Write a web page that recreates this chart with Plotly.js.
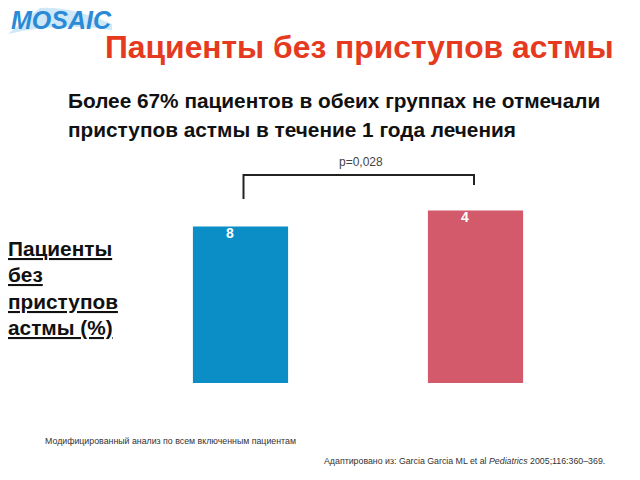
<!DOCTYPE html>
<html>
<head>
<meta charset="utf-8">
<script src="https://cdn.plot.ly/plotly-3.0.1.min.js"></script>
<style>html,body{margin:0;padding:0;background:#fff;}#chart{width:640px;height:480px;}</style>
</head>
<body>
<div id="chart"></div>
<script>
// Data
const categories = ['Группа 1', 'Группа 2'];
const values = [68, 75];
const barLabels = ['8', '4'];
const barColors = ['#0b8ec6', '#d35a6a'];
const pValue = 'p=0,028';
const titleText = 'Пациенты без приступов астмы';
const subtitleLines = ['Более 67% пациентов в обеих группах не отмечали', 'приступов астмы в течение 1 года лечения'];
const yLabelLines = ['Пациенты', 'без', 'приступов', 'астмы (%)'];
const footnote1 = 'Модифицированный анализ по всем включенным пациентам';
const footnote2 = 'Адаптировано из: Garcia Garcia ML et al <i>Pediatrics</i> 2005;116:360–369.';

// Plot geometry helpers (pixel -> paper)
const M = {l: 123, r: 47, t: 153, b: 97};
const PW = 640 - M.l - M.r, PH = 480 - M.t - M.b;
const px = x => (x - M.l) / PW;
const py = y => (480 - M.b - y) / PH;

const trace = {
  type: 'bar',
  x: categories,
  y: values,
  marker: {color: barColors},
  hoverinfo: 'skip',
  width: 0.405
};

const annotations = [];
// logo
annotations.push({xref:'paper', yref:'paper', x: px(9), y: py(20), xanchor:'left', yanchor:'middle',
  text:'<b><i>MOSAIC</i></b>', showarrow:false, font:{family:'Liberation Sans, Arial', size:25, color:'#2a8ad6'}});
// title
annotations.push({xref:'paper', yref:'paper', x: px(103), y: py(47), xanchor:'left', yanchor:'middle',
  text:'<b>' + titleText + '</b>', showarrow:false, font:{family:'Liberation Sans, Arial', size:31.8, color:'#e53a20'}});
// subtitle
subtitleLines.forEach((t, i) => annotations.push({xref:'paper', yref:'paper', x: px(66), y: py(100 + i * 29), xanchor:'left', yanchor:'middle',
  text:'<b>' + t + '</b>', showarrow:false, font:{family:'Liberation Sans, Arial', size:20.8, color:'#111'}}));
// y label
yLabelLines.forEach((t, i) => annotations.push({xref:'paper', yref:'paper', x: px(6), y: py(248 + i * 26.5), xanchor:'left', yanchor:'middle',
  text:'<b><u>' + t + '</u></b>', showarrow:false, font:{family:'Liberation Sans, Arial', size:20.8, color:'#111'}}));
// bar labels
categories.forEach((c, i) => annotations.push({xref:'x', yref:'y', x: c, y: values[i], xanchor:'center', yanchor:'top',
  xshift:-11, yshift:4, text:'<b>' + barLabels[i] + '</b>', showarrow:false, font:{family:'Liberation Sans, Arial', size:14, color:'#fff'}}));
// p value
annotations.push({xref:'paper', yref:'paper', x: px(361), y: py(162), xanchor:'center', yanchor:'middle',
  text: pValue, showarrow:false, font:{family:'Liberation Sans, Arial', size:12, color:'#444'}});
// footnotes
annotations.push({xref:'paper', yref:'paper', x: px(43), y: py(441), xanchor:'left', yanchor:'middle',
  text: footnote1, showarrow:false, font:{family:'Liberation Sans, Arial', size:8.8, color:'#333'}});
annotations.push({xref:'paper', yref:'paper', x: px(607), y: py(461), xanchor:'right', yanchor:'middle',
  text: footnote2, showarrow:false, font:{family:'Liberation Sans, Arial', size:8.8, color:'#333'}});

const shapes = [
  // logo backdrop swoosh
  {type:'path', xref:'paper', yref:'paper', layer:'below',
   path: 'M ' + px(8) + ',' + py(34) + ' Q ' + px(60) + ',' + py(22) + ' ' + px(112) + ',' + py(30) + ' L ' + px(112) + ',' + py(24) + ' Q ' + px(70) + ',' + py(6) + ' ' + px(40) + ',' + py(8) + ' Z',
   fillcolor:'#cfe8f8', line:{width:0}},
  // significance bracket
  {type:'path', xref:'paper', yref:'paper',
   path: 'M ' + px(243.5) + ',' + py(199) + ' L ' + px(243.5) + ',' + py(175) + ' L ' + px(474) + ',' + py(175) + ' L ' + px(474) + ',' + py(185),
   line:{color:'#222', width:2}}
];

const layout = {
  width: 640, height: 480,
  margin: M,
  paper_bgcolor:'#fff', plot_bgcolor:'#fff',
  showlegend:false,
  xaxis:{range:[-0.5, 1.5], visible:false, fixedrange:true},
  yaxis:{range:[0, 100], visible:false, fixedrange:true},
  annotations: annotations,
  shapes: shapes
};

Plotly.newPlot('chart', [trace], layout, {displayModeBar:false, staticPlot:true});
</script>
</body>
</html>
